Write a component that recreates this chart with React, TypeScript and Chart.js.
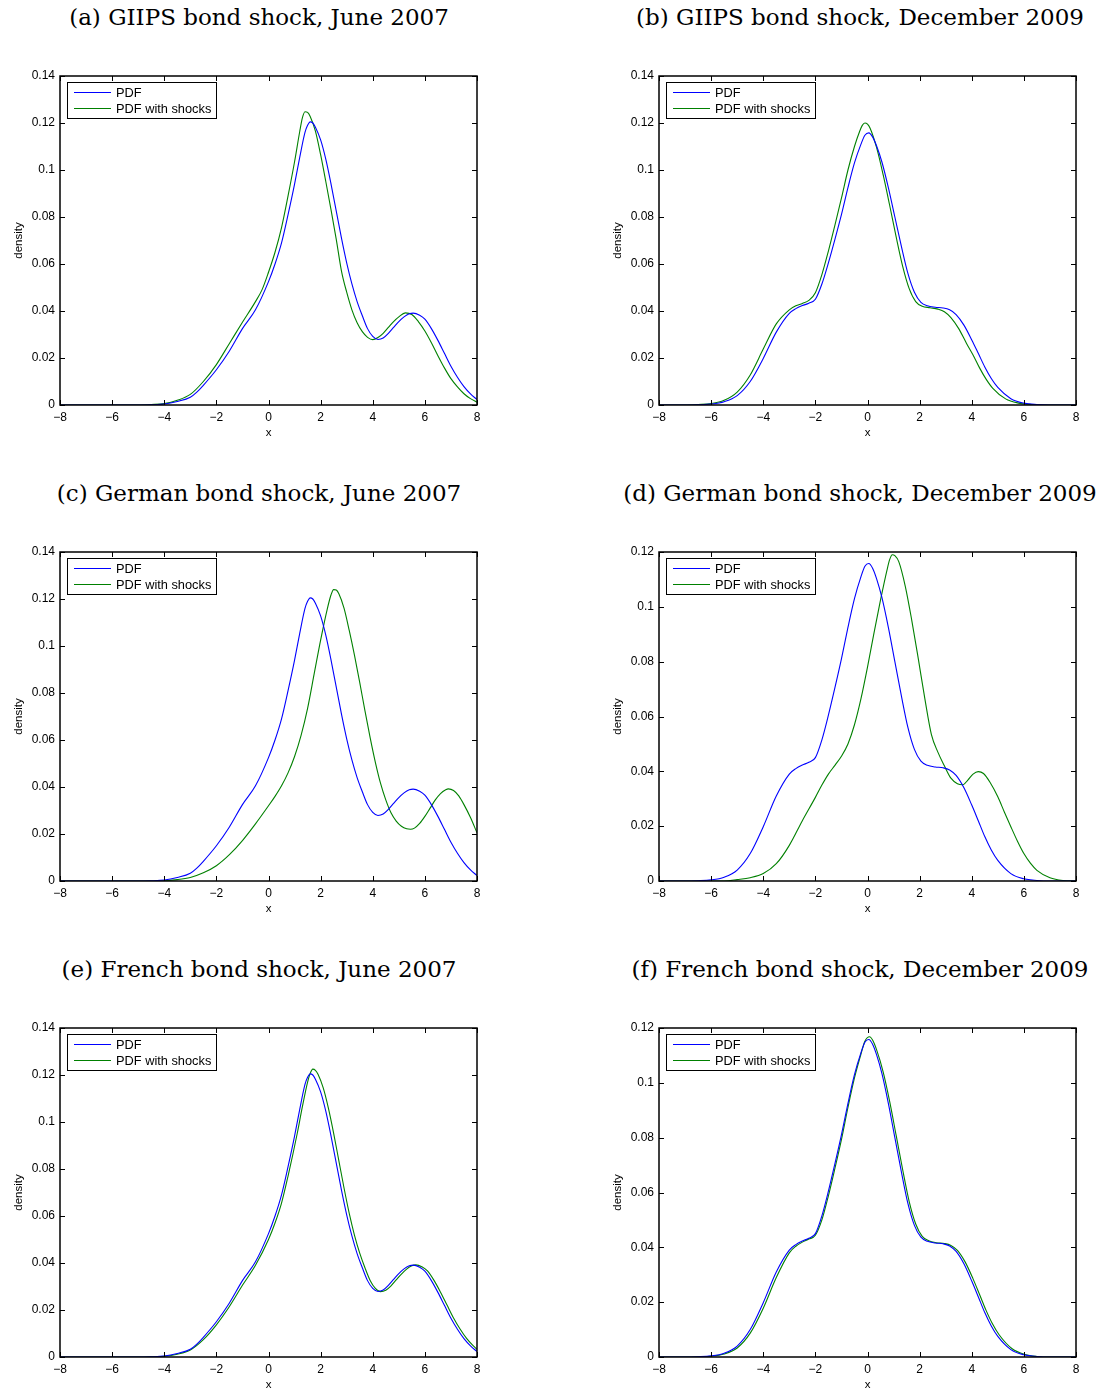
import React, { useEffect, useRef } from "react";
import { Chart, registerables } from "chart.js";

Chart.register(...registerables);

type Pt = [number, number];

// ---------- tick values / labels ----------
const xTicks = [-8, -6, -4, -2, 0, 2, 4, 6, 8];
const yTicks014 = [0, 0.02, 0.04, 0.06, 0.08, 0.1, 0.12, 0.14];
const yTicks012 = [0, 0.02, 0.04, 0.06, 0.08, 0.1, 0.12];
const seriesLabels = ["PDF", "PDF with shocks"];
const seriesColors = ["#0000ff", "#008000"];
const xAxisLabel = "x";
const yAxisLabel = "density";

const panelTitles = [
  "(a) GIIPS bond shock, June 2007",
  "(b) GIIPS bond shock, December 2009",
  "(c) German bond shock, June 2007",
  "(d) German bond shock, December 2009",
  "(e) French bond shock, June 2007",
  "(f) French bond shock, December 2009",
];

// ---------- series (x, density) ----------
const pdfJune2007: Pt[] = [
  [-8, 0], [-5, 0], [-4.5, 0.0001], [-4, 0.0004], [-3.5, 0.0015], [-3, 0.0033],
  [-2.75, 0.0055], [-2.5, 0.0084], [-2, 0.0150], [-1.5, 0.0230], [-1, 0.0325],
  [-0.5, 0.0405], [0, 0.0525], [0.25, 0.0600], [0.5, 0.0690], [0.75, 0.0810],
  [1, 0.0940], [1.2, 0.1055], [1.4, 0.1160], [1.5, 0.1190], [1.6, 0.1205],
  [1.7, 0.1200], [1.8, 0.1182], [2, 0.1128], [2.2, 0.1045], [2.4, 0.0940],
  [2.6, 0.0825], [2.8, 0.0710], [3, 0.0605], [3.2, 0.0515], [3.4, 0.0440],
  [3.6, 0.0380], [3.8, 0.0325], [4, 0.0292], [4.2, 0.0279], [4.4, 0.0285],
  [4.6, 0.0305], [4.8, 0.0330], [5, 0.0355], [5.2, 0.0375], [5.4, 0.0388],
  [5.55, 0.0391], [5.8, 0.0382], [6, 0.0365], [6.25, 0.0325], [6.5, 0.0275],
  [6.75, 0.0220], [7, 0.0165], [7.25, 0.0118], [7.5, 0.0078], [7.75, 0.0047],
  [8, 0.0023],
];

const giipsJune2007: Pt[] = [
  [-8, 0], [-5, 0], [-4.5, 0.0002], [-4, 0.0006], [-3.5, 0.0020], [-3, 0.0045],
  [-2.5, 0.0100], [-2, 0.0172], [-1.5, 0.0262], [-1, 0.0352], [-0.5, 0.0440],
  [-0.25, 0.0490], [0, 0.0565], [0.25, 0.0650], [0.5, 0.0755], [0.75, 0.0890],
  [1, 0.1035], [1.2, 0.1165], [1.3, 0.1222], [1.4, 0.1248], [1.5, 0.1245],
  [1.6, 0.1228], [1.8, 0.1165], [2, 0.1065], [2.2, 0.0950], [2.4, 0.0830],
  [2.6, 0.0705], [2.8, 0.0570], [3, 0.0480], [3.2, 0.0405], [3.4, 0.0350],
  [3.6, 0.0312], [3.8, 0.0288], [4, 0.0278], [4.2, 0.0287], [4.4, 0.0305],
  [4.6, 0.0330], [4.8, 0.0355], [5, 0.0375], [5.25, 0.0392], [5.5, 0.0385],
  [5.75, 0.0355], [6, 0.0315], [6.25, 0.0265], [6.5, 0.0210], [6.75, 0.0158],
  [7, 0.0112], [7.25, 0.0077], [7.5, 0.0048], [7.75, 0.0027], [8, 0.0012],
];

const germanJune2007: Pt[] = [
  [-8, 0], [-4.5, 0], [-4, 0.0002], [-3.5, 0.0006], [-3, 0.0015], [-2.5, 0.0035],
  [-2, 0.0065], [-1.5, 0.0112], [-1, 0.0172], [-0.5, 0.0243], [0, 0.0320],
  [0.25, 0.0360], [0.5, 0.0405], [0.75, 0.0460], [1, 0.0530], [1.25, 0.0620],
  [1.5, 0.0735], [1.75, 0.0880], [2, 0.1025], [2.25, 0.1155], [2.4, 0.1218],
  [2.5, 0.1240], [2.6, 0.1238], [2.7, 0.1222], [2.9, 0.1160], [3.1, 0.1065],
  [3.3, 0.0960], [3.5, 0.0845], [3.7, 0.0725], [3.9, 0.0610], [4.1, 0.0505],
  [4.3, 0.0415], [4.5, 0.0345], [4.7, 0.0290], [4.9, 0.0255], [5.1, 0.0233],
  [5.3, 0.0222], [5.45, 0.0220], [5.6, 0.0225], [5.8, 0.0245], [6, 0.0275],
  [6.2, 0.0310], [6.4, 0.0345], [6.6, 0.0372], [6.8, 0.0388], [6.9, 0.0392],
  [7.1, 0.0385], [7.3, 0.0362], [7.5, 0.0325], [7.75, 0.0270], [8, 0.0205],
];

const frenchJune2007: Pt[] = [
  [-8, 0], [-5, 0], [-4.5, 0.0001], [-4, 0.0003], [-3.5, 0.0012], [-3, 0.0030],
  [-2.5, 0.0074], [-2, 0.0137], [-1.5, 0.0215], [-1, 0.0305], [-0.5, 0.0390],
  [0, 0.0500], [0.25, 0.0570], [0.5, 0.0655], [0.75, 0.0770], [1.1, 0.0950],
  [1.3, 0.1065], [1.5, 0.1170], [1.6, 0.1207], [1.7, 0.1225], [1.8, 0.1220],
  [1.9, 0.1203], [2.1, 0.1145], [2.3, 0.1058], [2.5, 0.0952], [2.7, 0.0835],
  [2.9, 0.0718], [3.1, 0.0610], [3.3, 0.0518], [3.5, 0.0442], [3.7, 0.0380],
  [3.9, 0.0326], [4.1, 0.0292], [4.3, 0.0278], [4.5, 0.0284], [4.7, 0.0303],
  [4.9, 0.0328], [5.1, 0.0353], [5.3, 0.0374], [5.5, 0.0388], [5.65, 0.0392],
  [5.9, 0.0383], [6.1, 0.0366], [6.35, 0.0326], [6.6, 0.0276], [6.85, 0.0221],
  [7.1, 0.0166], [7.35, 0.0119], [7.6, 0.0079], [7.85, 0.0048], [8, 0.0033],
];

const pdfDec2009: Pt[] = [
  [-8, 0], [-7, 0], [-6.5, 0.0001], [-6, 0.0004], [-5.5, 0.0014], [-5, 0.0040],
  [-4.5, 0.0100], [-4, 0.0198], [-3.5, 0.0310], [-3, 0.0390], [-2.75, 0.0410],
  [-2.5, 0.0423], [-2.25, 0.0433], [-2, 0.0450], [-1.75, 0.0515], [-1.5, 0.0605],
  [-1.25, 0.0705], [-1, 0.0810], [-0.75, 0.0925], [-0.5, 0.1030], [-0.25, 0.1110],
  [-0.1, 0.1148], [0.05, 0.1158], [0.2, 0.1140], [0.35, 0.1102], [0.55, 0.1035],
  [0.8, 0.0925], [1.05, 0.0800], [1.3, 0.0675], [1.55, 0.0560], [1.8, 0.0480],
  [2.05, 0.0437], [2.3, 0.0422], [2.6, 0.0416], [2.9, 0.0413], [3.15, 0.0405],
  [3.4, 0.0385], [3.7, 0.0340], [4, 0.0277], [4.25, 0.0220], [4.5, 0.0162],
  [4.75, 0.0113], [5, 0.0075], [5.5, 0.0027], [6, 0.0008], [6.5, 0.0002],
  [7, 0], [8, 0],
];

const giipsDec2009: Pt[] = [
  [-8, 0], [-7, 0], [-6.5, 0.0002], [-6, 0.0006], [-5.5, 0.0020], [-5, 0.0055],
  [-4.5, 0.0128], [-4, 0.0238], [-3.5, 0.0345], [-3, 0.0405], [-2.75, 0.0422],
  [-2.5, 0.0432], [-2.25, 0.0445], [-2, 0.0478], [-1.75, 0.0555], [-1.5, 0.0655],
  [-1.25, 0.0765], [-1, 0.0880], [-0.75, 0.1000], [-0.5, 0.1100], [-0.3, 0.1165],
  [-0.2, 0.1190], [-0.1, 0.1200], [0, 0.1195], [0.1, 0.1178], [0.35, 0.1095],
  [0.6, 0.0980], [0.85, 0.0850], [1.1, 0.0715], [1.35, 0.0590], [1.6, 0.0495],
  [1.85, 0.0440], [2.1, 0.0420], [2.4, 0.0414], [2.7, 0.0408], [2.95, 0.0397],
  [3.2, 0.0372], [3.5, 0.0325], [3.8, 0.0262], [4.05, 0.0213], [4.3, 0.0158],
  [4.55, 0.0110], [4.8, 0.0072], [5.3, 0.0026], [5.8, 0.0008], [6.3, 0.0002],
  [7, 0], [8, 0],
];

const germanDec2009: Pt[] = [
  [-8, 0], [-5.5, 0], [-5, 0.0005], [-4.5, 0.0012], [-4, 0.0027], [-3.5, 0.0063],
  [-3, 0.0130], [-2.5, 0.0220], [-2, 0.0305], [-1.75, 0.0350], [-1.5, 0.0390],
  [-1.25, 0.0422], [-1, 0.0455], [-0.75, 0.0500], [-0.5, 0.0570], [-0.25, 0.0665],
  [0, 0.0780], [0.25, 0.0905], [0.5, 0.1025], [0.75, 0.1135], [0.85, 0.1172],
  [0.95, 0.1190], [1.05, 0.1187], [1.2, 0.1165], [1.45, 0.1075], [1.7, 0.0950],
  [1.95, 0.0810], [2.2, 0.0665], [2.45, 0.0535], [2.7, 0.0470], [2.95, 0.0420],
  [3.2, 0.0375], [3.45, 0.0355], [3.65, 0.0351], [3.85, 0.0368], [4.05, 0.0390],
  [4.25, 0.0399], [4.45, 0.0392], [4.7, 0.0360], [5, 0.0307], [5.25, 0.0252],
  [5.5, 0.0198], [5.75, 0.0146], [6, 0.0100], [6.25, 0.0065], [6.5, 0.0039],
  [7, 0.0012], [7.5, 0.0002], [8, 0],
];

const frenchDec2009: Pt[] = [
  [-8, 0], [-7, 0], [-6.5, 0.0001], [-6, 0.0003], [-5.5, 0.0011], [-5, 0.0033],
  [-4.5, 0.0087], [-4, 0.0178], [-3.5, 0.0290], [-3, 0.0380], [-2.75, 0.0404],
  [-2.5, 0.0419], [-2.25, 0.0430], [-2, 0.0444], [-1.75, 0.0500], [-1.5, 0.0588],
  [-1.25, 0.0688], [-1, 0.0793], [-0.75, 0.0910], [-0.5, 0.1018], [-0.25, 0.1105],
  [-0.1, 0.1152], [0.08, 0.1168], [0.2, 0.1155], [0.35, 0.1120], [0.6, 0.1040],
  [0.85, 0.0932], [1.1, 0.0808], [1.35, 0.0683], [1.6, 0.0567], [1.85, 0.0485],
  [2.1, 0.0440], [2.35, 0.0424], [2.65, 0.0417], [2.95, 0.0414], [3.2, 0.0407],
  [3.45, 0.0389], [3.75, 0.0346], [4.05, 0.0285], [4.3, 0.0228], [4.55, 0.0170],
  [4.8, 0.0120], [5.05, 0.0081], [5.55, 0.0030], [6.05, 0.0009], [6.5, 0.0002],
  [7, 0], [8, 0],
];

// ---------- panel list ----------
const panels = [
  { title: panelTitles[0], base: pdfJune2007, shocked: giipsJune2007, yTicks: yTicks014, col: 0, row: 0 },
  { title: panelTitles[1], base: pdfDec2009, shocked: giipsDec2009, yTicks: yTicks014, col: 1, row: 0 },
  { title: panelTitles[2], base: pdfJune2007, shocked: germanJune2007, yTicks: yTicks014, col: 0, row: 1 },
  { title: panelTitles[3], base: pdfDec2009, shocked: germanDec2009, yTicks: yTicks012, col: 1, row: 1 },
  { title: panelTitles[4], base: pdfJune2007, shocked: frenchJune2007, yTicks: yTicks014, col: 0, row: 2 },
  { title: panelTitles[5], base: pdfDec2009, shocked: frenchDec2009, yTicks: yTicks012, col: 1, row: 2 },
];

const SANS = "'Liberation Sans', Arial, Helvetica, sans-serif";
const CANVAS_W = 501;
const CANVAS_H = 440;
const COL_X = [0, 599];
const ROW_Y = [0, 476, 952];
const TITLE_CX = [259, 860];

const fmt = (v: number) => (v < 0 ? "\u2212" + String(-v) : String(v));

const framePlugin = {
  id: "matlabFrame",
  afterDraw(chart: any) {
    const { ctx, chartArea: a, scales } = chart;
    const L = 5;
    ctx.save();
    ctx.strokeStyle = "#000";
    ctx.lineWidth = 1;
    ctx.beginPath();
    scales.x.ticks.forEach((t: any) => {
      const px = Math.round(scales.x.getPixelForValue(t.value)) + 0.5;
      ctx.moveTo(px, a.bottom);
      ctx.lineTo(px, a.bottom - L);
      ctx.moveTo(px, a.top);
      ctx.lineTo(px, a.top + L);
    });
    scales.y.ticks.forEach((t: any) => {
      const py = Math.round(scales.y.getPixelForValue(t.value)) + 0.5;
      ctx.moveTo(a.left, py);
      ctx.lineTo(a.left + L, py);
      ctx.moveTo(a.right, py);
      ctx.lineTo(a.right - L, py);
    });
    ctx.stroke();
    ctx.lineWidth = 1.5;
    ctx.strokeRect(a.left, a.top, a.right - a.left, a.bottom - a.top);

    // legend box (inside, north-west)
    const bx = a.left + 7;
    const by = a.top + 6;
    const bw = 149;
    const bh = 36;
    ctx.fillStyle = "#fff";
    ctx.fillRect(bx, by, bw, bh);
    ctx.lineWidth = 1;
    ctx.strokeStyle = "#000";
    ctx.strokeRect(bx + 0.5, by + 0.5, bw, bh);
    ctx.font = "12.8px " + SANS;
    ctx.textBaseline = "middle";
    ctx.textAlign = "left";
    chart.data.datasets.forEach((ds: any, i: number) => {
      const ly = by + 10.5 + i * 16;
      ctx.strokeStyle = ds.borderColor;
      ctx.lineWidth = 1.2;
      ctx.beginPath();
      ctx.moveTo(bx + 7, ly);
      ctx.lineTo(bx + 44, ly);
      ctx.stroke();
      ctx.fillStyle = "#000";
      ctx.fillText(ds.label, bx + 49, ly + 0.5);
    });
    ctx.restore();
  },
};

function Panel({ p }: { p: (typeof panels)[number] }) {
  const ref = useRef<HTMLCanvasElement | null>(null);
  useEffect(() => {
    if (!ref.current) return;
    const yMax = p.yTicks[p.yTicks.length - 1];
    const chart = new Chart(ref.current, {
      type: "line",
      data: {
        datasets: [p.base, p.shocked].map((s, i) => ({
          label: seriesLabels[i],
          data: s.map(([x, y]) => ({ x, y })),
          borderColor: seriesColors[i],
          backgroundColor: seriesColors[i],
          borderWidth: 1.1,
          pointRadius: 0,
          fill: false,
          cubicInterpolationMode: "monotone" as const,
        })),
      },
      options: {
        animation: false,
        responsive: false,
        devicePixelRatio: 1,
        layout: { padding: { top: 76, left: 0, right: CANVAS_W - 477, bottom: 0 } },
        plugins: { legend: { display: false }, tooltip: { enabled: false }, title: { display: false } },
        scales: {
          x: {
            type: "linear",
            min: xTicks[0],
            max: xTicks[xTicks.length - 1],
            grid: { display: false, drawTicks: false },
            border: { display: false },
            afterBuildTicks: (s: any) => {
              s.ticks = xTicks.map((v) => ({ value: v }));
            },
            afterFit: (s: any) => {
              s.height = 35;
            },
            ticks: {
              padding: 5,
              color: "#000",
              font: { family: SANS, size: 12 },
              maxRotation: 0,
              callback: (v: any) => fmt(Number(v)),
            },
            title: {
              display: true,
              text: xAxisLabel,
              color: "#000",
              font: { family: SANS, size: 11.5 },
              padding: { top: 0, bottom: 0 },
            },
          },
          y: {
            type: "linear",
            min: 0,
            max: yMax,
            grid: { display: false, drawTicks: false },
            border: { display: false },
            afterBuildTicks: (s: any) => {
              s.ticks = p.yTicks.map((v) => ({ value: v }));
            },
            afterFit: (s: any) => {
              s.width = 60;
            },
            ticks: {
              padding: 5,
              color: "#000",
              font: { family: SANS, size: 12 },
              callback: (v: any) => fmt(Number(v)),
            },
            title: {
              display: true,
              text: yAxisLabel,
              color: "#000",
              font: { family: SANS, size: 11.5 },
              padding: { top: 12, bottom: 0 },
            },
          },
        },
      },
      plugins: [framePlugin],
    });
    return () => chart.destroy();
  }, [p]);

  return (
    <>
      <div
        style={{
          position: "absolute",
          left: TITLE_CX[p.col] - 300,
          top: ROW_Y[p.row] + 3,
          width: 600,
          height: 28,
          lineHeight: "28px",
          textAlign: "center",
          fontFamily: "'DejaVu Serif', serif",
          fontSize: 23,
          color: "#000",
          whiteSpace: "nowrap",
        }}
      >
        {p.title}
      </div>
      <div
        style={{
          position: "absolute",
          left: COL_X[p.col],
          top: ROW_Y[p.row],
          width: CANVAS_W,
          height: CANVAS_H,
        }}
      >
        <canvas ref={ref} width={CANVAS_W} height={CANVAS_H} style={{ display: "block" }} />
      </div>
    </>
  );
}

export default function App() {
  return (
    <div
      style={{
        position: "fixed",
        left: 0,
        top: 0,
        width: 1100,
        height: 1389,
        overflow: "hidden",
        background: "#fff",
      }}
    >
      {panels.map((p, i) => (
        <Panel key={i} p={p} />
      ))}
    </div>
  );
}
